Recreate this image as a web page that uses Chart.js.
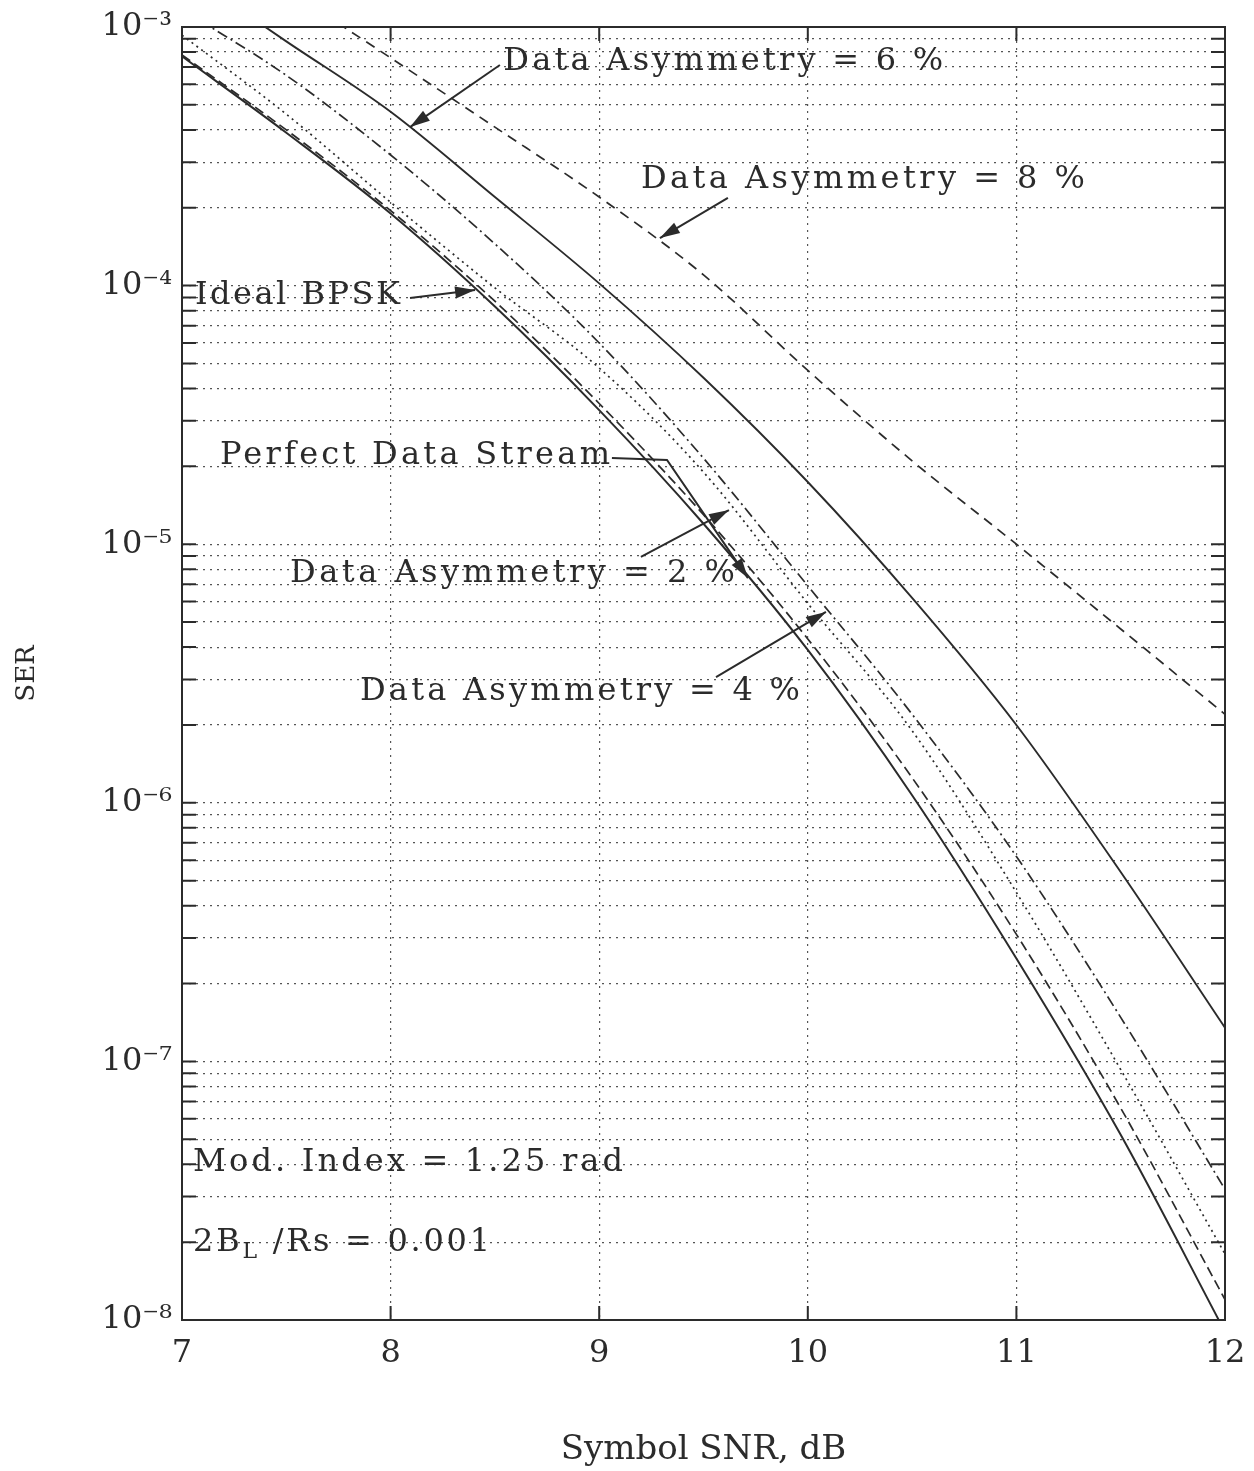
<!DOCTYPE html>
<html>
<head>
<meta charset="utf-8">
<title>SER vs Symbol SNR</title>
<script src="https://cdn.jsdelivr.net/npm/chart.js@4.4.1/dist/chart.umd.min.js"></script>
<style>
    html, body { margin: 0; padding: 0; background: #fff; }
    #wrap { width: 1254px; height: 1471px; }
</style>
</head>
<body>
<div id="wrap"><canvas id="ser-chart" width="1254" height="1471"></canvas></div>
<script>
// Symbol error rate vs symbol SNR, data asymmetry curves

const snrDb = [7, 7.5, 8, 8.5, 9, 9.5, 10, 10.5, 11, 11.5, 12];

const serIdeal   = [7.7e-4, 3.9e-4, 1.9e-4, 8.3e-5, 3.3e-5, 1.2e-5, 3.9e-6, 1.07e-6, 2.5e-7, 5.2e-8, 9.0e-9];
const serPerfect = [7.8e-4, 4.0e-4, 1.95e-4, 8.7e-5, 3.5e-5, 1.3e-5, 4.3e-6, 1.25e-6, 3.1e-7, 6.6e-8, 1.2e-8];
const serAsym2   = [9.3e-4, 4.6e-4, 2.1e-4, 9.8e-5, 4.8e-5, 1.9e-5, 5.9e-6, 1.9e-6, 4.5e-7, 9.3e-8, 1.8e-8];
const serAsym4   = [1.17e-3, 6.5e-4, 3.2e-4, 1.45e-4, 6.0e-5, 2.15e-5, 6.9e-6, 2.2e-6, 6.2e-7, 1.48e-7, 3.2e-8];
const serAsym6   = [1.66e-3, 8.8e-4, 4.7e-4, 2.2e-4, 1.02e-4, 4.4e-5, 1.74e-5, 6.2e-6, 2.0e-6, 5.4e-7, 1.35e-7];
const serAsym8   = [2.6e-3, 1.4e-3, 7.6e-4, 4.1e-4, 2.2e-4, 1.1e-4, 4.7e-5, 2.1e-5, 1.0e-5, 4.7e-6, 2.2e-6];

const xTicks = [7, 8, 9, 10, 11, 12];
const yDecades = [-8, -7, -6, -5, -4, -3];
const yMantissas = [1, 2, 3, 4, 5, 6, 7, 8, 9];

// text notes: anchor is [snr, log10(ser)], arrows as list of [snr, log10(ser)] points, last = tip
const notes = [
    { text: 'Data Asymmetry = 6 %', at: [8.54, -3.135], width: 440, path: [[8.524, -3.147], [8.093, -3.387]] },
    { text: 'Data Asymmetry = 8 %', at: [9.20, -3.592], width: 444, path: [[9.617, -3.661], [9.291, -3.816]] },
    { text: 'Ideal BPSK', at: [7.062, -4.040], width: 205, path: [[8.093, -4.048], [8.405, -4.017]] },
    { text: 'Perfect Data Stream', at: [7.182, -4.659], width: 390, path: [[9.061, -4.667], [9.325, -4.674], [9.713, -5.131]] },
    { text: 'Data Asymmetry = 2 %', at: [7.518, -5.115], width: 445, path: [[9.200, -5.049], [9.622, -4.868]] },
    { text: 'Data Asymmetry = 4 %', at: [7.853, -5.572], width: 440, path: [[9.560, -5.514], [10.087, -5.262]] },
    { text: 'Mod. Index = 1.25 rad', at: [7.053, -7.393], width: 430, path: null },
    { parts: ['2B', 'L', ' /Rs = 0.001'], at: [7.053, -7.702], width: 297, path: null }
];

const FONT = '"DejaVu Serif", "Liberation Serif", serif';
const INK = '#2b2b2b';
const SUP = { '-': '\u207B', '0': '\u2070', '1': '\u00B9', '2': '\u00B2', '3': '\u00B3', '4': '\u2074',
              '5': '\u2075', '6': '\u2076', '7': '\u2077', '8': '\u2078', '9': '\u2079' };

function toPoints(ys) {
    return snrDb.map(function(x, i) { return { x: x, y: ys[i] }; });
}

function makeSet(label, ys, dash, width) {
    return {
        label: label,
        data: toPoints(ys),
        borderColor: INK,
        borderWidth: width,
        borderDash: dash,
        pointRadius: 0,
        fill: false,
        cubicInterpolationMode: 'monotone'
    };
}

function drawArrow(ctx, pts) {
    ctx.beginPath();
    ctx.moveTo(pts[0][0], pts[0][1]);
    for (let i = 1; i < pts.length; i++) ctx.lineTo(pts[i][0], pts[i][1]);
    ctx.stroke();
    const a = pts[pts.length - 2], b = pts[pts.length - 1];
    const ang = Math.atan2(b[1] - a[1], b[0] - a[0]);
    const len = 20, half = 6;
    ctx.beginPath();
    ctx.moveTo(b[0], b[1]);
    ctx.lineTo(b[0] - len * Math.cos(ang) + half * Math.sin(ang), b[1] - len * Math.sin(ang) - half * Math.cos(ang));
    ctx.lineTo(b[0] - len * Math.cos(ang) - half * Math.sin(ang), b[1] - len * Math.sin(ang) + half * Math.cos(ang));
    ctx.closePath();
    ctx.fill();
}

const frameAndNotes = {
    id: 'frameAndNotes',
    afterDatasetsDraw(chart) {
        const ctx = chart.ctx;
        const area = chart.chartArea;
        const xs = chart.scales.x, ys = chart.scales.y;
        const px = function(p) { return [xs.getPixelForValue(p[0]), ys.getPixelForValue(Math.pow(10, p[1]))]; };

        ctx.save();
        ctx.strokeStyle = INK;
        ctx.fillStyle = INK;
        ctx.setLineDash([]);

        // plot frame
        ctx.lineWidth = 2;
        ctx.strokeRect(area.left, area.top, area.right - area.left, area.bottom - area.top);

        // inward tick marks
        ys.ticks.forEach(function(t) {
            const y = ys.getPixelForValue(t.value);
            ctx.beginPath();
            ctx.moveTo(area.left, y); ctx.lineTo(area.left + 14, y);
            ctx.moveTo(area.right, y); ctx.lineTo(area.right - 14, y);
            ctx.stroke();
        });
        xs.ticks.forEach(function(t) {
            const x = xs.getPixelForValue(t.value);
            ctx.beginPath();
            ctx.moveTo(x, area.bottom); ctx.lineTo(x, area.bottom - 14);
            ctx.moveTo(x, area.top); ctx.lineTo(x, area.top + 14);
            ctx.stroke();
        });

        // notes and arrows
        ctx.lineWidth = 2;
        ctx.textBaseline = 'middle';
        ctx.textAlign = 'left';
        notes.forEach(function(n) {
            const p = px(n.at);
            const parts = n.parts || [n.text];
            const size = 32;
            ctx.font = size + 'px ' + FONT;
            ctx.letterSpacing = '0px';
            let natural = 0, chars = 0;
            parts.forEach(function(s, i) {
                ctx.font = (n.parts && i === 1 ? 22 : size) + 'px ' + FONT;
                natural += ctx.measureText(s).width;
                chars += s.length;
            });
            const ls = (n.width - natural) / Math.max(chars - 1, 1);
            ctx.letterSpacing = ls.toFixed(2) + 'px';
            let x = p[0];
            parts.forEach(function(s, i) {
                const sub = n.parts && i === 1;
                ctx.font = (sub ? 22 : size) + 'px ' + FONT;
                ctx.fillText(s, x, p[1] + (sub ? 9 : 0));
                x += ctx.measureText(s).width;
            });
            ctx.letterSpacing = '0px';
            if (n.path) drawArrow(ctx, n.path.map(px));
        });
        ctx.restore();
    }
};

const yTickValues = [];
yDecades.forEach(function(e) {
    yMantissas.forEach(function(m) {
        if (e < -3 || m === 1) yTickValues.push(m * Math.pow(10, e));
    });
});

new Chart(document.getElementById('ser-chart'), {
    type: 'line',
    data: {
        datasets: [
            makeSet('Ideal BPSK', serIdeal, [], 2),
            makeSet('Perfect Data Stream', serPerfect, [10, 5], 1.7),
            makeSet('Data Asymmetry = 2 %', serAsym2, [2, 4], 1.7),
            makeSet('Data Asymmetry = 4 %', serAsym4, [11, 4, 2, 4], 1.7),
            makeSet('Data Asymmetry = 6 %', serAsym6, [], 1.9),
            makeSet('Data Asymmetry = 8 %', serAsym8, [10, 7], 1.7)
        ]
    },
    options: {
        responsive: false,
        animation: false,
        devicePixelRatio: 1,
        layout: { padding: { left: 0, right: 29, top: 27, bottom: 0 } },
        plugins: {
            legend: { display: false },
            tooltip: { enabled: false }
        },
        scales: {
            x: {
                type: 'linear',
                min: 7,
                max: 12,
                afterFit: function(s) { s.height = 151; s.paddingLeft = 0; s.paddingRight = 0; },
                afterBuildTicks: function(s) { s.ticks = xTicks.map(function(v) { return { value: v }; }); },
                grid: { color: '#555', lineWidth: 1.2, drawTicks: false },
                border: { display: false, dash: [2, 5] },
                ticks: { padding: 14, color: INK, font: { family: FONT, size: 32 } },
                title: { display: true, text: 'Symbol SNR, dB', color: INK, font: { family: FONT, size: 34 }, padding: 0 }
            },
            y: {
                type: 'logarithmic',
                min: 1e-8,
                max: 1e-3,
                afterFit: function(s) { s.width = 182; s.paddingTop = 0; s.paddingBottom = 0; },
                afterBuildTicks: function(s) { s.ticks = yTickValues.map(function(v) { return { value: v }; }); },
                grid: { color: '#555', lineWidth: 1.2, drawTicks: false },
                border: { display: false, dash: [2, 5] },
                ticks: {
                    autoSkip: false,
                    padding: 10,
                    color: INK,
                    font: { family: FONT, size: 32 },
                    callback: function(v) {
                        const e = Math.log10(v);
                        if (Math.abs(e - Math.round(e)) > 1e-6) return '';
                        return '10' + String(Math.round(e)).split('').map(function(c) { return SUP[c]; }).join('');
                    }
                },
                title: { display: true, text: 'SER', color: INK, font: { family: FONT, size: 26 }, padding: { top: 12 } }
            }
        }
    },
    plugins: [frameAndNotes]
});
</script>
</body>
</html>
